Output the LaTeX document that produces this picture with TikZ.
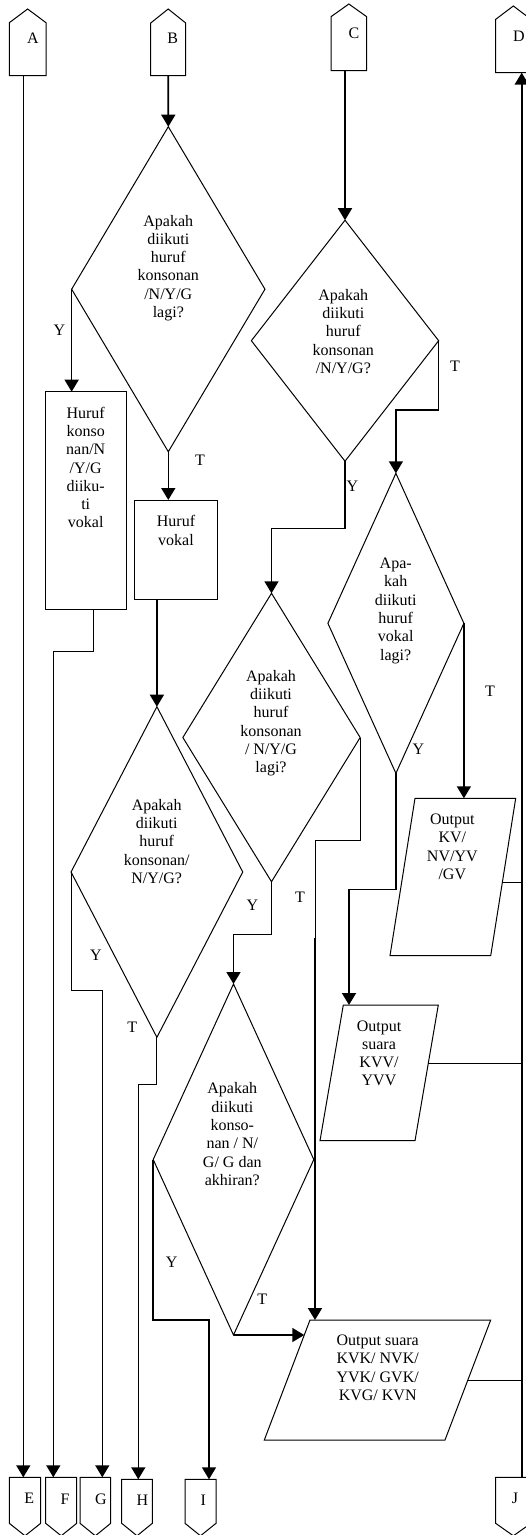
\documentclass[tikz,border=0pt]{standalone}
\usepackage{fontspec}
\setmainfont{Liberation Serif}
\usepackage{tikz}
\usetikzlibrary{positioning,arrows.meta,calc,shapes.geometric}
\tikzset{
  txt/.style={align=center, inner sep=0pt, font=\fontsize{16}{18.3}\selectfont},
  shapeline/.style={draw, line width=1pt, inner sep=0pt, outer sep=0pt},
  decision/.style={shapeline, diamond},
  procbox/.style={shapeline, rectangle},
  frame/.style={rectangle, inner sep=0pt, outer sep=0pt},
  flow/.style={line width=1.6pt},
  link/.style={line width=1pt},
}
% outlines drawn round an invisible frame node
\def\Pup#1#2{(#1.south west) -- (#1.north west) -- ([yshift=#2]#1.north)
  -- (#1.north east) -- (#1.south east) -- cycle}
\def\Pdown#1#2{(#1.north west) -- (#1.south west) -- ([yshift=-#2]#1.south)
  -- (#1.south east) -- (#1.north east) -- cycle}
\def\Pslant#1#2{(#1.south west) -- ([xshift=#2]#1.north west) -- (#1.north east)
  -- ([xshift=-#2]#1.south east) -- cycle}
\begin{document}
\begin{tikzpicture}[x=1pt, y=-1pt, >={Triangle[length=12pt,width=14pt]}]
        \useasboundingbox (0,0) rectangle (526,1535);
        % off-page connectors
        \foreach \n/\x/\y/\w/\h/\t in {A/27.65/49.2/36.7/53/13.7, B/168.2/49.35/35/52.7/14,
                                      C/348.85/43.7/35.7/54/12.7, D/513.35/46/35.3/53.4/13.3}{
          \node[frame, minimum width=\w pt, minimum height=\h pt] (\n) at (\x,\y) {};
          \draw[shapeline] \Pup{\n}{\t pt};
        }
        \foreach \n/\x/\y/\w/\h in {E/25/1500.3/31.4/46, F/61.2/1500.3/31/46, G/95.35/1500.3/30.7/46,
                                   H/137/1501.3/30.6/44, I/200.5/1501.3/31/44, J/513.35/1500.3/35.3/46}{
          \node[frame, minimum width=\w pt, minimum height=\h pt] (\n) at (\x,\y) {};
          \draw[shapeline] \Pdown{\n}{12.5pt};
        }
        \foreach \n/\x/\y in {A/33/38, B/172.7/38, C/354/33, D/519/36.7, E/29.3/1498,
                             F/65/1499, G/101/1499, H/142.3/1500, I/203.3/1500, J/515/1498}
          \node[txt] (\n tx) at (\x,\y) {\n};
        % decisions
        \node[decision, minimum width=193.3pt, minimum height=325pt] (q1) at (168.3,289.2) {};
        \node[decision, minimum width=187.3pt, minimum height=241pt] (q2) at (345,340.7) {};
        \node[decision, minimum width=136pt, minimum height=300pt] (q3) at (395.9,623.3) {};
        \node[decision, minimum width=171.7pt, minimum height=330.6pt] (q4) at (156.9,872) {};
        \node[decision, minimum width=177.3pt, minimum height=288.4pt] (q5) at (271.5,737.5) {};
        \node[decision, minimum width=160.6pt, minimum height=351pt] (q6) at (233.5,1159.5) {};
        \node[txt] (q1tx) at (168.3,268) {Apakah\\diikuti\\huruf\\konsonan\\/N/Y/G\\lagi?};
        \node[txt] (q2tx) at (343.3,331.3) {Apakah\\diikuti\\huruf\\konsonan\\/N/Y/G?};
        \node[txt] (q3tx) at (395.7,610.8) {Apa-\\kah\\diikuti\\huruf\\vokal\\lagi?};
        \node[txt] (q4tx) at (156.7,841.3) {Apakah\\diikuti\\huruf\\konsonan/\\N/Y/G?};
        \node[txt] (q5tx) at (271,723.3) {Apakah\\diikuti\\huruf\\konsonan\\/ N/Y/G\\lagi?};
        \node[txt] (q6tx) at (232.3,1134.2) {Apakah\\diikuti\\konso-\\nan / N/\\G/ G dan\\akhiran?};
        % process boxes
        \node[procbox, minimum width=80.3pt, minimum height=217.6pt] (box1) at (85.85,500.5) {};
        \node[procbox, minimum width=82.6pt, minimum height=99.3pt] (box2) at (176,549.65) {};
        \node[txt] (box1tx) at (85.7,467.5) {Huruf\\konso\\nan/N\\/Y/G\\diiku-\\ti\\vokal};
        \node[txt] (box2tx) at (176,530.3) {Huruf\\vokal};
        % outputs
        \node[frame, minimum width=125.7pt, minimum height=157.4pt] (out1) at (452.85,877) {};
        \node[frame, minimum width=118.3pt, minimum height=135.7pt] (out2) at (379.15,1072.85) {};
        \node[frame, minimum width=226.4pt, minimum height=120pt] (out3) at (377.5,1380) {};
        \draw[shapeline] \Pslant{out1}{25pt};
        \draw[shapeline] \Pslant{out2}{23.3pt};
        \draw[shapeline] \Pslant{out3}{45.7pt};
        \node[txt] (out1tx) at (452.3,846.8) {Output\\KV/\\NV/YV\\/GV};
        \node[txt] (out2tx) at (379,1053.3) {Output\\suara\\KVV/\\YVV};
        \node[txt] (out3tx) at (377.7,1367.9) {Output suara\\KVK/ NVK/\\YVK/ GVK/\\KVG/ KVN};
        % branch labels
        \foreach \n/\t/\x/\y in {a/Y/59.3/330, b/T/200/460, c/T/455/366, d/Y/352.3/486.7,
                                e/T/490/691, f/Y/418.3/749.3, g/Y/252.3/905.7, h/T/300/897.7,
                                i/Y/96/955, j/T/132.3/1027.7, k/Y/171.7/1262.7, l/T/262.3/1299}
          \node[txt] (br\n) at (\x,\y) {\t};
        % line positions and bends
        \coordinate (lA) at (23.3,0);
        \coordinate (lD) at (521.7,0);
        \coordinate (b1) at (93.3,651);
        \coordinate (b1x) at (53.3,682);
        \coordinate (c1) at (0,410);
        \coordinate (c2) at (0,528.3);
        \coordinate (c3) at (349,889.3);
        \coordinate (c4) at (0,934.3);
        \coordinate (d1) at (102.3,990.7);
        \coordinate (d1x) at (102.3,1092);
        \coordinate (d2) at (138.3,1084.3);
        \coordinate (d2x) at (138.3,1130);
        \coordinate (e1) at (315,840);
        \coordinate (e1x) at (315,938);
        \coordinate (e2) at (209,1320);
        \coordinate (r1) at ($(out1.north east)!0.534!([xshift=-25pt]out1.south east)$);
        \coordinate (r2) at ($(out2.north east)!0.43!([xshift=-23.3pt]out2.south east)$);
        \coordinate (r3) at ($(out3.north east)!0.5!([xshift=-45.7pt]out3.south east)$);
        \coordinate (s3) at ($([xshift=45.7pt]out3.north west)!0.125!(out3.south west)$);
        % connectors
        \draw[flow,->] (A.south -| lA) -- (lA |- E.north);
        \draw[flow,->] (B.south) -- (q1.north);
        \draw[flow,->] (q2.north |- C.south) -- (q2.north);
        \draw[flow,->] (q1.west) -- (q1.west |- box1.north);
        \draw[flow,->] (q1.south) -- (q1.south |- box2.north);
        \draw[link] (b1 |- box1.south) -- (b1) -| (b1x);
        \draw[flow,->] (b1x) -- (b1x |- F.north);
        \draw[flow,->] (q4.north |- box2.south) -- (q4.north);
        \draw[flow,->] (q2.east) -- (q2.east |- c1) -| (q3.north);
        \draw[flow,->] (q2.south) -- (q2.south |- c2) -| (q5.north);
        \draw[flow,->] (q3.east) -- (q3.east |- out1.north);
        \draw[flow,->] (q3.south) |- (c3) -- (c3 |- out2.north);
        \draw[link] (q4.west) |- (d1) -- (d1x);
        \draw[flow,->] (d1x) -- (d1x |- G.north);
        \draw[link] (q4.south) |- (d2) -- (d2x);
        \draw[flow,->] (d2x) -- (d2x |- H.north);
        \draw[link] (q5.east) |- (e1) -- (e1x);
        \draw[flow,->] (e1x) -- (e1x |- out3.north);
        \draw[flow,->] (q5.south) -- (q5.south |- c4) -| (q6.north);
        \draw[flow,->] (q6.west) |- (e2) -- (e2 |- I.north);
        \draw[flow,->] (q6.south) -- (s3);
        % back to D
        \draw[link] (r1) -- (r1 -| lD);
        \draw[link] (r2) -- (r2 -| lD);
        \draw[link] (r3) -- (r3 -| lD);
        \draw[flow,->] (lD |- J.north) -- (lD |- D.south);
\end{tikzpicture}
\end{document}
